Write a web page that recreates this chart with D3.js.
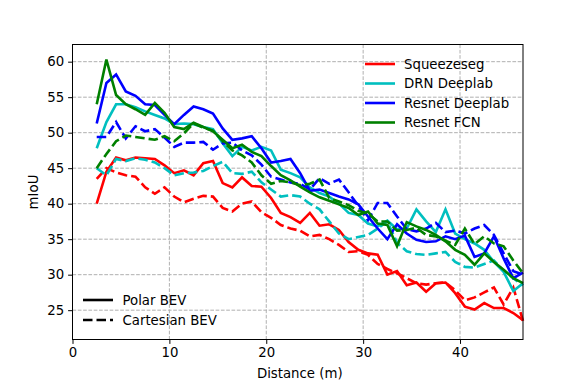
<!DOCTYPE html>
<html>
<head>
<meta charset="utf-8">
<script src="https://cdn.jsdelivr.net/npm/d3@7"></script>
<style>
  body { margin: 0; background: #fff; }
  text { font-family: "DejaVu Sans", sans-serif; }
</style>
</head>
<body>
<div id="chart-area"></div>
<script>
// distances (m)
let distance = [2.5, 3.5, 4.5, 5.5, 6.5, 7.5, 8.5, 9.5, 10.5, 11.5, 12.5, 13.5, 14.5, 15.5, 16.5,
    17.5, 18.5, 19.5, 20.5, 21.5, 22.5, 23.5, 24.5, 25.5, 26.5, 27.5, 28.5, 29.5, 30.5, 31.5,
    32.5, 33.5, 34.5, 35.5, 36.5, 37.5, 38.5, 39.5, 40.5, 41.5, 42.5, 43.5, 44.5, 45.5, 46.5];

// mIoU per model, polar BEV (solid) and cartesian BEV (dashed)
let squeezePolar = [40.0, 44.5, 46.5, 46.1, 46.5, 46.4, 46.3, 45.4, 44.3, 44.7, 44.0, 45.7, 46.0, 42.9, 42.3,
    43.7, 42.5, 42.4, 40.8, 38.7, 38.1, 37.3, 38.7, 36.9, 37.1, 36.3, 34.6, 33.5, 33.0, 32.8,
    30.0, 30.5, 28.5, 28.9, 27.6, 28.8, 28.9, 27.4, 25.5, 25.1, 26.0, 25.3, 25.3, 24.6, 23.6];
let squeezeCart = [43.5, 45.0, 44.4, 44.0, 43.8, 42.3, 41.4, 42.3, 41.0, 40.2, 40.7, 41.1, 41.0, 39.4, 38.9,
    40.0, 40.3, 38.8, 38.0, 37.0, 36.5, 36.2, 35.4, 35.6, 35.0, 34.2, 33.2, 33.3, 32.8, 31.5,
    30.8, 30.2, 29.5, 28.8, 28.6, 28.8, 28.9, 27.8, 26.4, 26.8, 27.5, 28.2, 25.8, 28.2, 23.5];
let drnPolar = [47.8, 51.5, 54.0, 54.0, 53.6, 53.0, 52.5, 52.0, 51.2, 51.3, 51.2, 50.8, 50.5, 48.5, 46.7,
    48.0, 47.5, 48.0, 47.5, 44.8, 44.3, 43.7, 42.3, 41.5, 41.0, 40.0, 38.7, 38.4, 37.2, 36.8,
    37.6, 36.4, 36.5, 39.2, 37.5, 36.0, 39.2, 35.8, 35.0, 34.4, 33.5, 31.8, 30.4, 27.7, 28.8];
let drnCart = [45.0, 44.0, 46.3, 46.0, 46.4, 46.2, 45.8, 45.0, 44.0, 44.3, 44.4, 44.6, 45.3, 45.9, 44.3,
    44.2, 44.5, 43.0, 42.0, 41.0, 41.2, 41.0, 40.0, 39.2, 37.5, 35.8, 35.0, 35.3, 35.6, 36.5,
    37.5, 34.5, 33.3, 32.9, 32.8, 33.0, 33.2, 31.8, 31.1, 31.0, 31.5, 32.0, 30.5, 29.5, 28.5];
let resDeepPolar = [51.3, 57.0, 58.2, 55.8, 55.2, 54.0, 53.9, 52.5, 51.2, 52.5, 53.7, 53.3, 52.7, 50.6, 49.0,
    49.2, 49.5, 47.8, 45.8, 46.0, 46.3, 44.3, 41.8, 42.0, 41.5, 41.0, 40.6, 39.9, 38.2, 36.5,
    35.0, 37.1, 35.8, 34.9, 34.6, 34.7, 35.4, 35.0, 35.5, 32.5, 33.0, 35.4, 32.3, 29.5, 30.3];
let resDeepCart = [49.4, 49.4, 51.5, 49.2, 50.9, 50.2, 50.5, 49.3, 48.0, 48.6, 48.6, 48.7, 47.6, 48.5, 48.6,
    47.5, 46.8, 45.5, 43.8, 43.4, 43.0, 42.8, 42.0, 43.6, 42.8, 43.4, 41.6, 39.7, 37.7, 40.1,
    40.1, 38.2, 36.4, 36.1, 36.5, 37.3, 36.0, 36.2, 35.8, 36.5, 37.0, 35.6, 33.0, 30.5, 30.0];
let fcnPolar = [54.0, 60.3, 55.3, 54.0, 53.3, 52.5, 54.2, 52.8, 50.8, 50.5, 51.4, 50.8, 50.2, 49.0, 47.8,
    48.3, 47.3, 46.7, 45.3, 44.0, 43.3, 42.4, 41.6, 40.9, 40.4, 39.9, 39.4, 38.4, 38.9, 37.2,
    37.0, 34.0, 37.4, 36.8, 36.3, 35.6, 34.7, 33.5, 32.8, 31.4, 33.0, 31.8, 30.7, 29.5, 28.8];
let fcnCart = [45.0, 47.0, 48.8, 49.6, 49.4, 49.2, 49.0, 49.5, 48.8, 49.9, 51.3, 50.7, 50.3, 48.8, 47.5,
    46.8, 45.8, 44.0, 42.8, 43.2, 43.0, 42.6, 42.8, 43.4, 40.8, 40.3, 39.8, 39.0, 38.6, 37.5,
    37.5, 36.2, 36.3, 36.6, 35.6, 35.4, 34.8, 34.2, 36.5, 34.3, 35.4, 34.4, 34.0, 32.0, 30.2];

let models = ["Squeezeseg", "DRN Deeplab", "Resnet Deeplab", "Resnet FCN"];
let modelColors = ["#ff0000", "#00bfbf", "#0000ff", "#008000"];
let xTicks = [0, 10, 20, 30, 40];
let yTicks = [25, 30, 35, 40, 45, 50, 55, 60];
let styleNames = ["Polar BEV", "Cartesian BEV"];

let series = [
    {model: 0, dashed: false, values: squeezePolar},
    {model: 0, dashed: true, values: squeezeCart},
    {model: 1, dashed: false, values: drnPolar},
    {model: 1, dashed: true, values: drnCart},
    {model: 2, dashed: false, values: resDeepPolar},
    {model: 2, dashed: true, values: resDeepCart},
    {model: 3, dashed: false, values: fcnPolar},
    {model: 3, dashed: true, values: fcnCart}
];

let fontSize = "13.3px";

// define margins
let margin = {top: 44.5, right: 58, bottom: 48.5, left: 72.5};
let width = 581 - margin.left - margin.right,
    height = 388 - margin.top - margin.bottom;

let svg = d3.select("#chart-area")
    .append("svg")
    .attr("width", 581)
    .attr("height", 388)
    .append("g")
    .attr("transform", "translate(" + margin.left + "," + margin.top + ")");

let x = d3.scaleLinear().domain([0, 46.5]).range([0, width]);
let y = d3.scaleLinear().domain([20.87, 62.42]).range([height, 0]);

// grid
svg.append("g").selectAll("line.vg")
    .data(xTicks).enter().append("line")
    .attr("x1", d => x(d)).attr("x2", d => x(d))
    .attr("y1", 0).attr("y2", height)
    .attr("stroke", "#b0b0b0").attr("stroke-width", 1)
    .attr("stroke-dasharray", "3.7,1.6");
svg.append("g").selectAll("line.hg")
    .data(yTicks).enter().append("line")
    .attr("y1", d => y(d)).attr("y2", d => y(d))
    .attr("x1", 0).attr("x2", width)
    .attr("stroke", "#b0b0b0").attr("stroke-width", 1)
    .attr("stroke-dasharray", "3.7,1.6");

// lines
let line = d3.line()
    .x((d, i) => x(distance[i]))
    .y(d => y(d));

let plot = svg.append("g");
plot.selectAll("path")
    .data(series).enter().append("path")
    .attr("d", d => line(d.values))
    .attr("fill", "none")
    .attr("stroke", d => modelColors[d.model])
    .attr("stroke-width", 2.6)
    .attr("stroke-dasharray", d => d.dashed ? "9.5,4" : null);

// axes
let xAxis = svg.append("g")
    .attr("transform", "translate(0," + height + ")")
    .call(d3.axisBottom(x).tickValues(xTicks).tickSize(4.4).tickSizeOuter(0).tickPadding(4));
let yAxis = svg.append("g")
    .call(d3.axisLeft(y).tickValues(yTicks).tickSize(4.4).tickSizeOuter(0).tickPadding(4));
[xAxis, yAxis].forEach(a => {
    a.select(".domain").remove();
    a.selectAll("text").attr("font-size", fontSize).attr("fill", "#000")
        .attr("font-family", "DejaVu Sans, sans-serif");
    a.selectAll("line").attr("stroke", "#000").attr("stroke-width", 1);
});

// frame
svg.append("rect")
    .attr("width", width).attr("height", height)
    .attr("fill", "none").attr("stroke", "#000").attr("stroke-width", 1);

// axis labels
svg.append("text")
    .attr("x", width / 2 + 2).attr("y", height + 38)
    .attr("text-anchor", "middle").attr("font-size", fontSize)
    .text("Distance (m)");
svg.append("text")
    .attr("transform", "translate(-35," + (height / 2) + ") rotate(-90)")
    .attr("text-anchor", "middle").attr("font-size", fontSize)
    .text("mIoU");

// model legend (upper right)
let legend = svg.append("g").attr("transform", "translate(" + (365 - margin.left) + "," + (64 - margin.top) + ")");
let item = legend.selectAll("g").data(models).enter().append("g")
    .attr("transform", (d, i) => "translate(0," + (i * 19.5) + ")");
item.append("line")
    .attr("x1", 0).attr("x2", 30).attr("y1", 0).attr("y2", 0)
    .attr("stroke", (d, i) => modelColors[i]).attr("stroke-width", 2.6);
item.append("text")
    .attr("x", 39).attr("y", 4.8).attr("font-size", fontSize)
    .text(d => d);

// style legend (lower left)
let legend2 = svg.append("g").attr("transform", "translate(" + (83 - margin.left) + "," + (300 - margin.top) + ")");
let item2 = legend2.selectAll("g").data(styleNames).enter().append("g")
    .attr("transform", (d, i) => "translate(0," + (i * 20) + ")");
item2.append("line")
    .attr("x1", 0).attr("x2", 30).attr("y1", 0).attr("y2", 0)
    .attr("stroke", "#000").attr("stroke-width", 2.6)
    .attr("stroke-dasharray", (d, i) => i ? "9.5,4" : null);
item2.append("text")
    .attr("x", 39.5).attr("y", 4.8).attr("font-size", fontSize)
    .text(d => d);
</script>
</body>
</html>
